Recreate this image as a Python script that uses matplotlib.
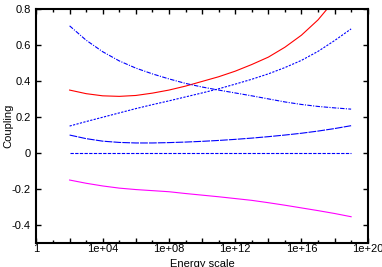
import matplotlib
matplotlib.use("Agg")
import matplotlib.pyplot as plt
import numpy as np
from matplotlib.ticker import FixedLocator, FixedFormatter

plt.rcParams['font.family'] = ['Liberation Sans', 'DejaVu Sans']

# energy grid, log10 of the scale
log_energy = [2, 3, 4, 5, 6, 7, 8, 9, 10, 11, 12, 13, 14, 15, 16, 17, 18, 19]

red_coupling = [0.350, 0.330, 0.318, 0.315, 0.320, 0.333, 0.350, 0.372, 0.398,
                0.424, 0.455, 0.492, 0.533, 0.588, 0.655, 0.740, 0.850, 0.970]
blue_falling = [0.707, 0.627, 0.563, 0.512, 0.472, 0.440, 0.412, 0.387, 0.367,
                0.350, 0.334, 0.318, 0.301, 0.284, 0.270, 0.259, 0.251, 0.244]
blue_rising = [0.150, 0.175, 0.199, 0.223, 0.247, 0.269, 0.290, 0.312, 0.334,
               0.357, 0.383, 0.410, 0.440, 0.475, 0.515, 0.565, 0.625, 0.690]
blue_low = [0.100, 0.080, 0.066, 0.059, 0.056, 0.056, 0.058, 0.061, 0.065,
            0.070, 0.076, 0.083, 0.091, 0.100, 0.110, 0.122, 0.136, 0.152]
blue_zero = [0.0] * 18
magenta_coupling = [-0.150, -0.168, -0.183, -0.195, -0.203, -0.209, -0.215, -0.225, -0.234,
                    -0.243, -0.253, -0.263, -0.276, -0.290, -0.305, -0.320, -0.336, -0.354]

x_major = [0, 2, 4, 6, 8, 10, 12, 14, 16, 18, 20]
x_minor = [1, 3, 5, 7, 9, 11, 13, 15, 17, 19]
x_labels = ["1", "", "1e+04", "", "1e+08", "", "1e+12", "", "1e+16", "", "1e+20"]
y_ticks = [-0.4, -0.2, 0, 0.2, 0.4, 0.6, 0.8]
y_labels = ["-0.4", "-0.2", "0", "0.2", "0.4", "0.6", "0.8"]

energy = 10.0 ** np.array(log_energy)

fig = plt.figure(figsize=(3.82, 2.67), dpi=100)
ax = fig.add_axes([0.0955, 0.0899, 0.867, 0.876])

ax.plot(energy, red_coupling, color='#ff0000', lw=0.8, ls='-')
ax.plot(energy, blue_rising, color='#0000ff', lw=0.8, ls=(0, (2, 1.2)))
ax.plot(energy, blue_falling, color='#0000ff', lw=0.8, ls=(0, (4, 1.2, 1, 1.2)))
ax.plot(energy, blue_low, color='#0000ff', lw=0.8, ls=(0, (7, 1)))
ax.plot(energy, blue_zero, color='#0000ff', lw=0.8, ls=(0, (3, 1.2)))
ax.plot(energy, magenta_coupling, color='#ff00ff', lw=0.8, ls='-')

ax.set_xscale('log')
ax.set_xlim(1, 1e20)
ax.set_ylim(-0.5, 0.8)

ax.xaxis.set_major_locator(FixedLocator([10.0 ** k for k in x_major]))
ax.xaxis.set_major_formatter(FixedFormatter(x_labels))
ax.xaxis.set_minor_locator(FixedLocator([10.0 ** k for k in x_minor]))
ax.xaxis.set_minor_formatter(FixedFormatter([]))
ax.set_yticks(y_ticks)
ax.set_yticklabels(y_labels)

ax.tick_params(which='both', direction='in', top=True, right=True, labelsize=8, width=1.0)
ax.tick_params(which='major', length=3.5)
ax.tick_params(which='minor', length=2)
ax.tick_params(axis='x', pad=1)
ax.tick_params(axis='y', pad=4)

for sp in ax.spines.values():
    sp.set_linewidth(1.5)

ax.set_xlabel("Energy scale", fontsize=8, labelpad=3)
ax.set_ylabel("Coupling", fontsize=8, labelpad=-1)

fig.savefig("out.png", dpi=100)
